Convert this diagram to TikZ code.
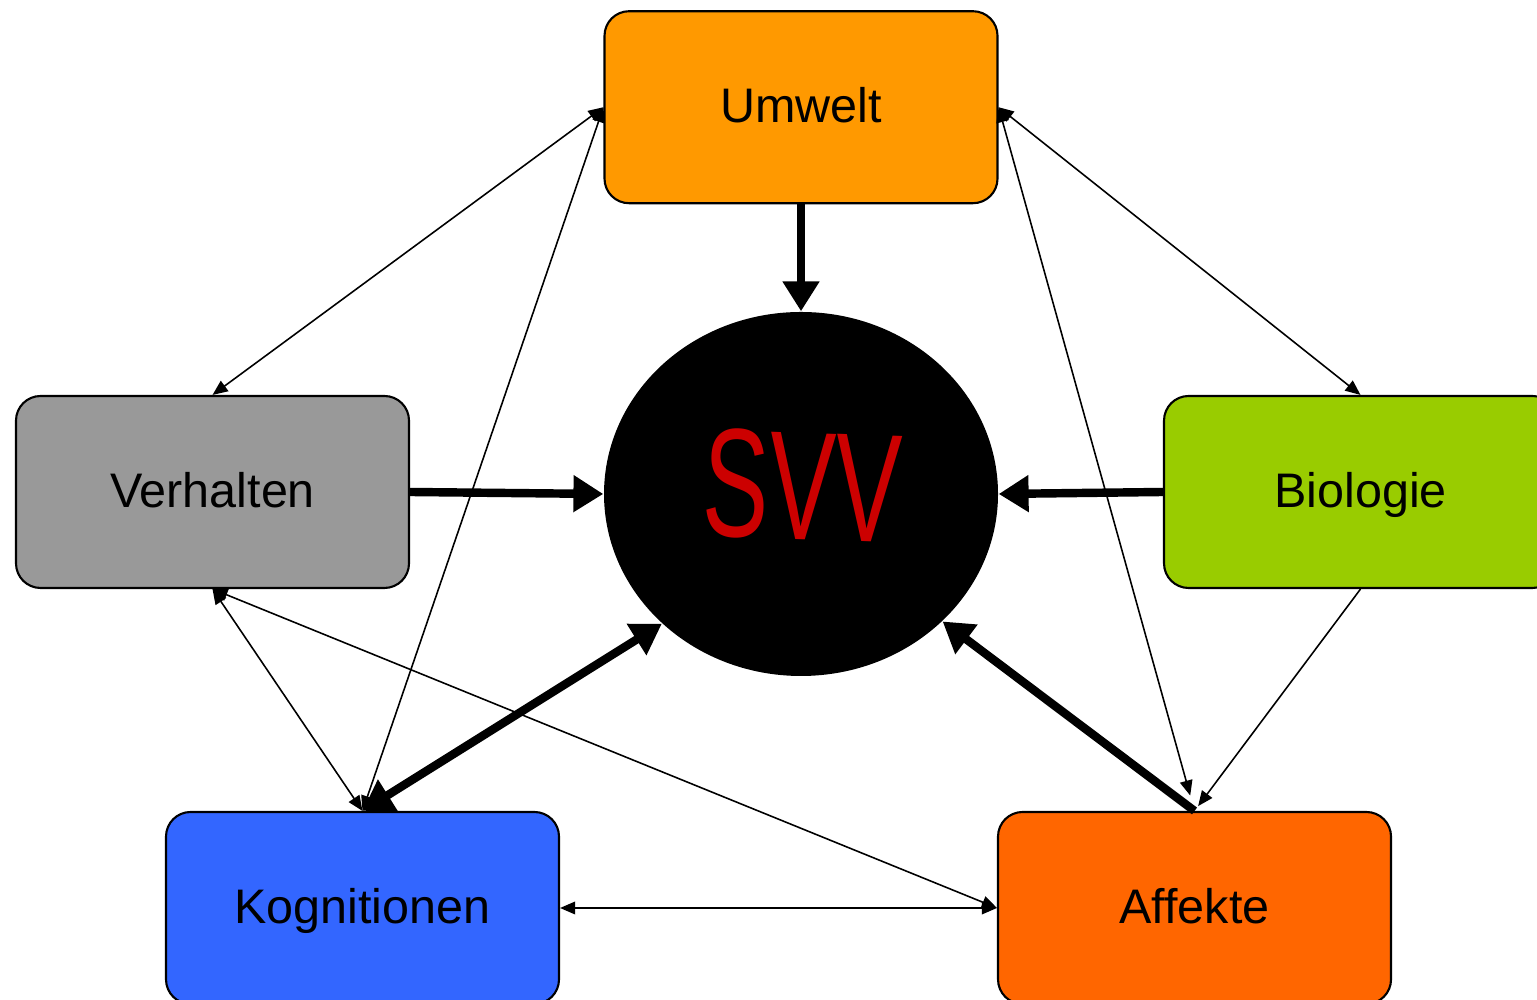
\documentclass[tikz,border=0pt]{standalone}
\usepackage{fontspec}
\setmainfont{Liberation Sans}
\usepackage{graphicx}
\usetikzlibrary{arrows.meta, positioning, shapes.geometric}
\definecolor{SVOrange}{HTML}{FF9900}
\definecolor{SVGray}{HTML}{999999}
\definecolor{SVGreen}{HTML}{99CC00}
\definecolor{SVBlue}{HTML}{3366FF}
\definecolor{SVRed}{HTML}{FF6600}
\definecolor{SVText}{HTML}{CC0000}

\begin{document}
\begin{tikzpicture}[
    % global settings
    font=\fontsize{13.8}{16}\selectfont,
    % styles
    factor/.style={
        draw=black,
        line width=0.6pt,
        rounded corners=7pt,
        minimum width=3.93cm,
        minimum height=1.92cm,
        inner sep=0pt,
        text height=0.88em,
        text depth=0pt
    },
    thinarrow/.style={line width=0.45pt, {Triangle[length=4.3pt,width=3.6pt]}-{Triangle[length=4.3pt,width=3.6pt]}},
    thickarrow/.style={line width=2.4pt, -{Triangle[length=8.5pt,width=10pt]}}
]
    \useasboundingbox (0,0) rectangle (15.37,10);

    % ====== center: SVV ======
    \node[ellipse, fill=black, minimum width=3.94cm, minimum height=3.64cm, inner sep=0pt] (svv) at (8.01,5.06) {};
    \node[text=SVText, font=\fontsize{44}{46}\selectfont, rotate=-2] (svvtext) at (8.02,5.14) {\scalebox{0.64}[1]{SVV}};

    % ====== factors ======
    \node[factor, fill=SVOrange] (umwelt) [above=1.07cm of svv] {Umwelt};
    \node[factor, fill=SVGray] (verhalten) at (2.125,5.08) {Verhalten};
    \node[factor, fill=SVGreen] (biologie) at (13.605,5.08) {Biologie};
    \node[factor, fill=SVBlue] (kognitionen) at (3.625,0.92) {Kognitionen};
    \node[factor, fill=SVRed] (affekte) at (11.945,0.92) {Affekte};

    % ====== thick arrows into SVV ======
    \draw[thickarrow] (umwelt.south) -- (svv.north);
    \draw[thickarrow] (verhalten.east) -- (svv.west);
    \draw[thickarrow] (biologie.west) -- (svv.east);
    \draw[thickarrow, {Triangle[length=8.5pt,width=10pt]}-{Triangle[length=8.5pt,width=10pt]}] (kognitionen.north) -- (svv.223);
    \draw[thickarrow] (affekte.north) -- (svv.318);

    % ====== thin arrows between factors ======
    \draw[thinarrow] (umwelt.west) -- (verhalten.north);
    \draw[thinarrow] (umwelt.west) -- (kognitionen.north);
    \draw[thinarrow] (umwelt.east) -- (biologie.north);
    \draw[thinarrow, shorten >=1.6mm] (umwelt.east) -- (affekte.north);
    \draw[thinarrow] (verhalten.south) -- (kognitionen.north);
    \draw[thinarrow] (verhalten.south) -- (affekte.west);
    \draw[thinarrow, -{Triangle[length=4.3pt,width=3.6pt]}, shorten >=0.6mm] (biologie.south) -- (affekte.north);
    \draw[thinarrow] (kognitionen.east) -- (affekte.west);

\end{tikzpicture}
\end{document}
